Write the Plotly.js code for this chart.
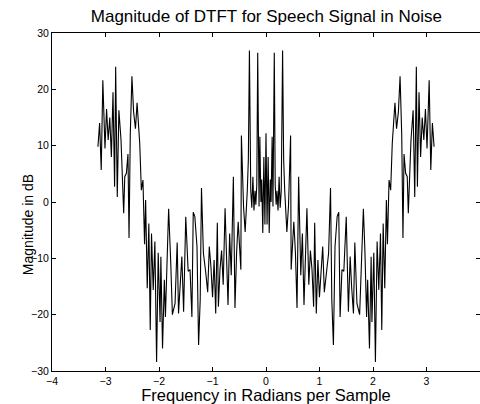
<!DOCTYPE html>
<html>
<head>
<meta charset="utf-8">
<script src="https://cdn.plot.ly/plotly-3.0.1.min.js"></script>
<style>html,body{margin:0;padding:0;background:#fff;}#chart{width:480px;height:404px;}</style>
</head>
<body>
<div id="chart"></div>
<script>
// Positive-frequency half (radians per sample); the spectrum is symmetric about 0
var freqPos = [0.000,0.020,0.040,0.060,0.080,0.095,0.115,0.130,0.155,0.172,0.190,0.205,0.225,0.245,0.265,0.285,0.310,0.330,0.350,0.390,0.420,0.460,0.470,0.520,0.550,0.580,0.610,0.650,0.680,0.710,0.765,0.800,0.830,0.860,0.890,0.910,0.940,0.970,0.999,1.030,1.060,1.090,1.125,1.170,1.206,1.230,1.260,1.290,1.330,1.360,1.385,1.420,1.455,1.500,1.540,1.573,1.600,1.635,1.660,1.700,1.750,1.780,1.820,1.850,1.880,1.900,1.934,1.965,1.980,2.015,2.045,2.077,2.108,2.140,2.164,2.190,2.220,2.250,2.270,2.300,2.330,2.360,2.390,2.410,2.440,2.475,2.506,2.537,2.560,2.580,2.610,2.640,2.660,2.690,2.710,2.750,2.780,2.810,2.830,2.860,2.890,2.920,2.950,2.980,3.010,3.050,3.080,3.110,3.1416];
var magPos = [12.2,-4,8,-5.5,4,0,11.6,-0.8,26.5,3,-0.5,2,-1.5,4.5,-1,2,26.9,7.5,2,-5.3,-0.8,11.8,-12,-3.5,-9,-18.8,4.5,-13,-5.6,-18.3,-1.1,-14.7,-8.6,-12,-18.6,-3.7,-19.8,-10.3,-16.9,-11.4,-7.9,-16,-12.6,-9.1,2.5,-17.4,-25.4,-7.9,-2.6,-1.8,-20.4,-12,-12.3,-2.6,-19.5,-9.7,-15,-19.8,-7.2,-18,-20,-10.9,-1.2,-9.1,-20.4,-13.8,-26,-9.7,-21.3,-9,-28.4,-7,-15.6,-5.6,-22.7,-3.8,-15.3,0.35,-7.5,3.9,2.1,10.4,14,17.6,13,16,22.3,11.9,-6.4,8.5,5.1,4.5,-2,5.7,11,16.3,0.9,24,2.7,19.5,8,15,11,16.5,9.5,21.6,5.7,14,9.8];
var xTicks = [-4,-3,-2,-1,0,1,2,3,4];
var yTicks = [-30,-20,-10,0,10,20,30];

var freq = [], mag = [];
for (var i = freqPos.length - 1; i >= 1; i--) { freq.push(-freqPos[i]); mag.push(magPos[i]); }
for (var j = 0; j < freqPos.length; j++) { freq.push(freqPos[j]); mag.push(magPos[j]); }

var font = 'Liberation Sans, Arial, Helvetica, sans-serif';
function lab(v) { return v < 0 ? '\u2212' + (-v) : String(v); }
var trace = {x: freq, y: mag, type: 'scatter', mode: 'lines', line: {color: '#000', width: 1.1}, hoverinfo: 'skip'};
var axisCommon = {showgrid: false, zeroline: false, showline: true, linecolor: '#000', linewidth: 1,
  mirror: 'ticks', ticks: 'inside', ticklen: 4, tickcolor: '#000', tickwidth: 1,
  tickfont: {family: font, size: 10.5, color: '#000'}};
var layout = {
  width: 480, height: 404,
  margin: {l: 52, r: 0, t: 33, b: 33, pad: 0},
  paper_bgcolor: '#fff', plot_bgcolor: '#fff',
  showlegend: false,
  title: {text: 'Magnitude of DTFT for Speech Signal in Noise', font: {family: font, size: 17, color: '#000'}, x: 0.555, xanchor: 'center', y: 0.960, yanchor: 'middle'},
  xaxis: Object.assign({}, axisCommon, {range: [-4, 4], tickvals: xTicks, ticktext: xTicks.map(lab),
    title: {text: 'Frequency in Radians per Sample', font: {family: font, size: 16.5, color: '#000'}, standoff: 4}}),
  yaxis: Object.assign({}, axisCommon, {range: [-30, 30], tickvals: yTicks, ticktext: yTicks.map(lab)}),
  annotations: [{text: 'Magnitude in dB', xref: 'paper', yref: 'y', x: -0.057, y: -4, xanchor: 'center', yanchor: 'middle', textangle: -90, showarrow: false, font: {family: font, size: 14, color: '#000'}}]
};
Plotly.newPlot('chart', [trace], layout, {displayModeBar: false, staticPlot: true});
</script>
</body>
</html>
